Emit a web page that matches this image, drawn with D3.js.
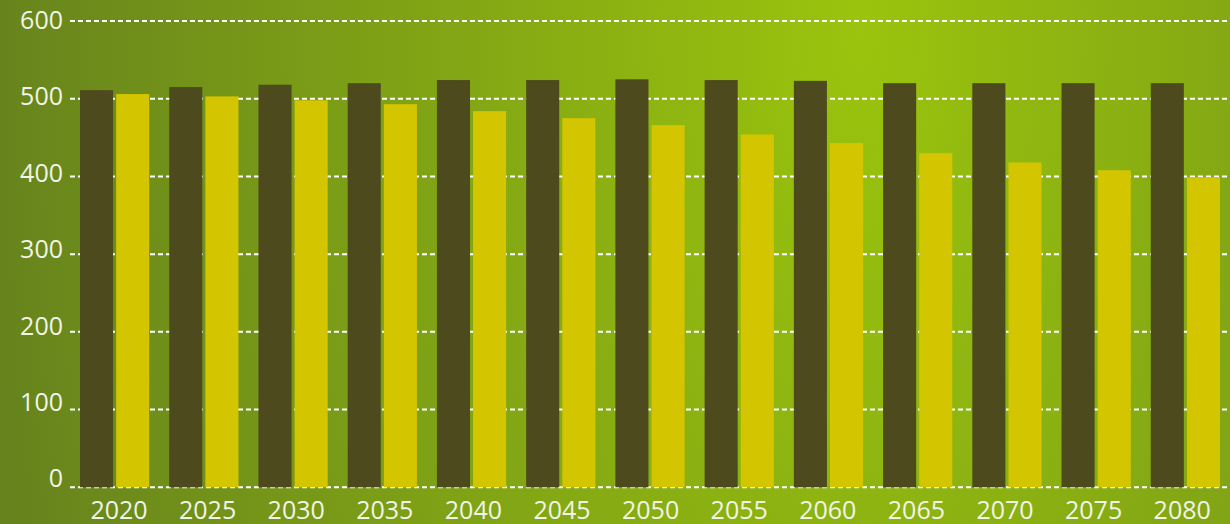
<!DOCTYPE html>
<html>
<head>
<meta charset="utf-8">
<script src="https://cdn.jsdelivr.net/npm/d3@7/dist/d3.min.js"></script>
<style>
html,body{margin:0;padding:0;overflow:hidden;}
svg{display:block;}
text{font-family:"Open Sans",sans-serif;fill:#f2f4e6;}
</style>
</head>
<body>
<svg id="chart" width="1230" height="524"></svg>
<script>
const years = ["2020","2025","2030","2035","2040","2045","2050","2055","2060","2065","2070","2075","2080"];
const seriesDark = [511,515,518,520,524,524,525,524,523,520,520,520,520];
const seriesYellow = [506,503,498,493,484,475,466,454,443,430,418,408,399];
const yTicks = [0,100,200,300,400,500,600];
const seriesKeys = ["dark","yellow"];
const seriesColors = ["#4d4a1d","#d3c500"];

const W = 1230, H = 524;
const svg = d3.select("#chart");

// background gradient
const defs = svg.append("defs");
const grad = defs.append("radialGradient")
  .attr("id","bg").attr("gradientUnits","userSpaceOnUse")
  .attr("cx",860).attr("cy",30).attr("r",880)
  .attr("gradientTransform","translate(860,30) scale(1,2.2) translate(-860,-30)");
grad.append("stop").attr("offset","0").attr("stop-color","#9ac40d");
grad.append("stop").attr("offset","1").attr("stop-color","#66831d");
svg.append("rect").attr("width",W).attr("height",H).attr("fill","url(#bg)");

const y = d3.scaleLinear().domain([0,600]).range([487.3,21]);
const yLabel = d3.scaleLinear().domain([0,600]).range([487.3,29]);
const x0 = d3.scaleBand().domain(years).range([70,1230]).padding(0);
const x1 = d3.scaleBand().domain(seriesKeys).range([10, x0.bandwidth()-10]).paddingInner(0.085);
const xLabel = d3.scaleBand().domain(years).range([74.7,1226.5]).padding(0);
const color = d3.scaleOrdinal().domain(seriesKeys).range(seriesColors);

// gridlines
svg.append("g").selectAll("line").data(yTicks).join("line")
  .attr("x1",70).attr("x2",W)
  .attr("y1",d=>y(d)).attr("y2",d=>y(d))
  .attr("stroke","#ffffff").attr("stroke-width",2)
  .attr("stroke-dasharray","5,3");

// y labels
svg.append("g").selectAll("text").data(yTicks).join("text")
  .attr("x",63).attr("y",d=>yLabel(d))
  .attr("text-anchor","end")
  .attr("font-size",25)
  .text(d=>d);

// bars
const rows = years.map((yr,i)=>({year:yr, values:[{key:"dark",v:seriesDark[i]},{key:"yellow",v:seriesYellow[i]}]}));
const groups = svg.append("g").selectAll("g").data(rows).join("g")
  .attr("transform",d=>`translate(${x0(d.year)},0)`);
groups.selectAll("rect").data(d=>d.values).join("rect")
  .attr("x",d=>x1(d.key)).attr("width",x1.bandwidth())
  .attr("y",d=>y(d.v)).attr("height",d=>y(0)-y(d.v))
  .attr("fill",d=>color(d.key));

// x labels
svg.append("g").selectAll("text").data(years).join("text")
  .attr("x",d=>xLabel(d)+xLabel.bandwidth()/2).attr("y",519)
  .attr("text-anchor","middle")
  .attr("font-size",25)
  .text(d=>d);
</script>
</body>
</html>
